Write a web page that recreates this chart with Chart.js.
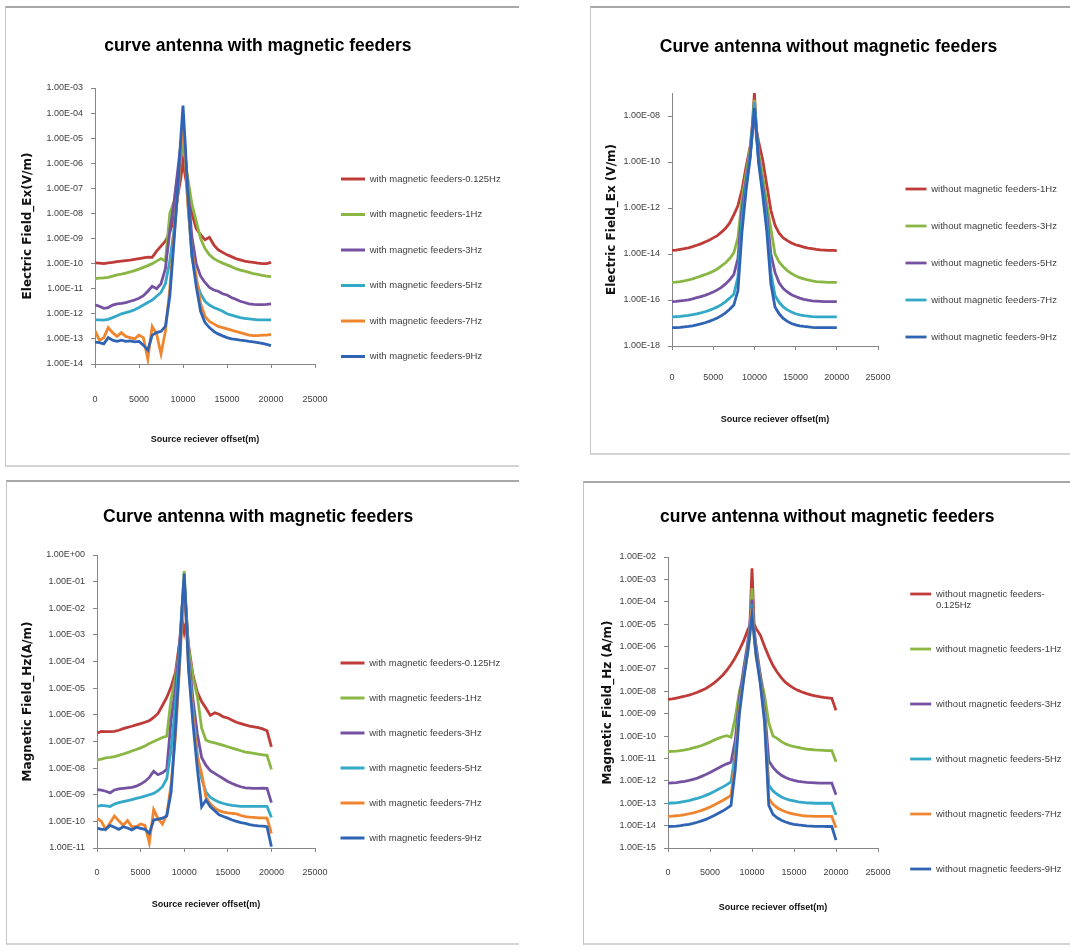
<!DOCTYPE html>
<html>
<head>
<meta charset="utf-8">
<script src="https://cdn.jsdelivr.net/npm/chart.js@4.4.0/dist/chart.umd.min.js"></script>
<style>
  body { margin: 0; background: #fff; width: 1070px; height: 951px; position: relative; overflow: hidden; }
  .frame { position: absolute; box-sizing: border-box; border-top: 2px solid #a8a8a8; border-left: 1px solid #c4c4c4; border-bottom: 2px solid #d4d4d4; }
  .frame canvas { position: absolute; left: -1px; top: -2px; }
</style>
</head>
<body>
<div class="frame" style="left:5px;top:6px;width:514px;height:461px"><canvas id="ExWithChart" width="514" height="461"></canvas></div>
<div class="frame" style="left:590px;top:6px;width:480px;height:449px"><canvas id="ExWithoutChart" width="480" height="449"></canvas></div>
<div class="frame" style="left:6px;top:480px;width:513px;height:465px"><canvas id="HzWithChart" width="513" height="465"></canvas></div>
<div class="frame" style="left:583px;top:481px;width:487px;height:464px"><canvas id="HzWithoutChart" width="487" height="464"></canvas></div>
<script>
// source-receiver offsets (m)
const offsets = [0,500,1000,1500,2000,2500,3000,3500,4000,4500,5000,5500,6000,6500,7000,7500,8000,8500,9000,9500,9750,10000,10250,10500,11000,11500,12000,12500,13000,13500,14000,14500,15000,15500,16000,16500,17000,17500,18000,18500,19000,19500,20000];

// values are log10 of the field

// Ex, with magnetic feeders
const exWith0125 = [-9.97,-9.98,-10.0,-9.97,-9.95,-9.92,-9.9,-9.88,-9.86,-9.83,-9.8,-9.77,-9.74,-9.75,-9.5,-9.3,-9.1,-8.75,-8.2,-7.1,-6.6,-5.9,-6.5,-7.0,-8.0,-8.6,-8.85,-9.05,-8.95,-9.25,-9.45,-9.55,-9.65,-9.72,-9.8,-9.85,-9.9,-9.93,-9.95,-9.98,-10.0,-10.0,-9.95];
const exWith1 = [-10.6,-10.58,-10.57,-10.55,-10.5,-10.45,-10.42,-10.38,-10.33,-10.28,-10.22,-10.15,-10.08,-10.0,-9.9,-9.8,-9.9,-8.0,-7.5,-6.2,-5.7,-5.3,-5.8,-6.5,-7.6,-8.3,-9.0,-9.4,-9.65,-9.8,-9.9,-9.98,-10.05,-10.12,-10.2,-10.26,-10.3,-10.35,-10.4,-10.43,-10.47,-10.5,-10.52];
const exWith3 = [-11.64,-11.7,-11.78,-11.75,-11.65,-11.6,-11.58,-11.55,-11.5,-11.45,-11.38,-11.28,-11.1,-10.9,-11.0,-10.8,-10.2,-8.7,-7.5,-6.0,-5.2,-4.6,-5.6,-6.8,-8.9,-10.0,-10.5,-10.75,-10.95,-11.05,-11.1,-11.2,-11.25,-11.35,-11.42,-11.5,-11.55,-11.6,-11.62,-11.63,-11.63,-11.62,-11.6];
const exWith5 = [-12.24,-12.24,-12.25,-12.22,-12.15,-12.08,-12.0,-11.95,-11.9,-11.84,-11.75,-11.65,-11.55,-11.45,-11.3,-11.15,-10.8,-9.9,-8.6,-6.9,-5.5,-4.4,-5.5,-7.3,-9.7,-10.7,-11.2,-11.5,-11.65,-11.75,-11.82,-11.9,-12.0,-12.05,-12.1,-12.15,-12.18,-12.2,-12.22,-12.24,-12.24,-12.24,-12.24];
const exWith7 = [-12.67,-13.05,-12.95,-12.55,-12.75,-12.9,-12.75,-12.9,-12.95,-13.0,-12.85,-12.95,-13.8,-12.5,-12.8,-13.6,-12.7,-11.0,-8.8,-6.8,-5.5,-4.5,-5.6,-7.4,-9.5,-10.5,-11.6,-12.1,-12.3,-12.4,-12.5,-12.55,-12.6,-12.65,-12.7,-12.75,-12.8,-12.85,-12.87,-12.87,-12.85,-12.85,-12.82];
const exWith9 = [-13.13,-13.15,-13.2,-12.95,-13.05,-13.1,-13.05,-13.1,-13.08,-13.12,-13.1,-13.25,-13.45,-12.85,-12.75,-12.7,-12.5,-11.3,-9.0,-6.5,-5.0,-3.7,-5.2,-7.0,-9.6,-10.9,-11.9,-12.35,-12.55,-12.7,-12.8,-12.88,-12.95,-13.0,-13.02,-13.05,-13.07,-13.1,-13.12,-13.15,-13.18,-13.22,-13.27];

// Ex, without magnetic feeders
const exWithout1 = [-13.84,-13.83,-13.8,-13.77,-13.73,-13.68,-13.62,-13.56,-13.48,-13.4,-13.3,-13.2,-13.05,-12.88,-12.65,-12.3,-11.9,-11.2,-10.2,-9.3,-8.4,-7.0,-8.6,-9.1,-9.9,-11.0,-12.1,-12.75,-13.1,-13.3,-13.42,-13.52,-13.6,-13.65,-13.7,-13.74,-13.77,-13.8,-13.82,-13.83,-13.84,-13.84,-13.85];
const exWithout3 = [-15.23,-15.22,-15.2,-15.17,-15.13,-15.08,-15.02,-14.96,-14.9,-14.83,-14.75,-14.65,-14.52,-14.38,-14.2,-13.95,-13.3,-11.6,-10.5,-9.4,-8.6,-7.3,-8.7,-9.6,-10.6,-11.8,-12.9,-14.0,-14.35,-14.55,-14.72,-14.85,-14.95,-15.03,-15.08,-15.13,-15.17,-15.2,-15.21,-15.22,-15.23,-15.23,-15.23];
const exWithout5 = [-16.07,-16.06,-16.04,-16.02,-15.99,-15.95,-15.9,-15.85,-15.8,-15.73,-15.65,-15.56,-15.45,-15.3,-15.12,-14.9,-14.2,-12.0,-10.8,-9.6,-8.8,-7.6,-8.9,-9.8,-11.0,-12.2,-14.0,-14.8,-15.25,-15.5,-15.65,-15.77,-15.85,-15.92,-15.97,-16.01,-16.04,-16.05,-16.06,-16.07,-16.07,-16.07,-16.07];
const exWithout7 = [-16.73,-16.72,-16.71,-16.69,-16.67,-16.64,-16.6,-16.56,-16.51,-16.45,-16.38,-16.3,-16.2,-16.07,-15.92,-15.75,-15.0,-12.5,-11.0,-9.7,-8.5,-7.4,-8.6,-9.9,-11.2,-12.6,-14.8,-15.8,-16.1,-16.3,-16.43,-16.52,-16.6,-16.65,-16.68,-16.7,-16.72,-16.73,-16.73,-16.73,-16.73,-16.73,-16.73];
const exWithout9 = [-17.2,-17.2,-17.19,-17.17,-17.15,-17.12,-17.08,-17.04,-16.99,-16.93,-16.86,-16.78,-16.68,-16.56,-16.4,-16.22,-15.6,-13.0,-11.2,-9.8,-8.6,-7.65,-8.7,-10.0,-11.4,-13.0,-15.3,-16.3,-16.6,-16.8,-16.93,-17.02,-17.08,-17.12,-17.15,-17.17,-17.19,-17.2,-17.2,-17.2,-17.2,-17.2,-17.2];

// Hz, with magnetic feeders
const hzWith0125 = [-6.69,-6.62,-6.63,-6.63,-6.62,-6.58,-6.52,-6.47,-6.43,-6.38,-6.33,-6.28,-6.22,-6.1,-5.95,-5.65,-5.35,-4.95,-4.4,-3.2,-2.4,-2.9,-2.5,-3.4,-4.5,-5.15,-5.5,-5.75,-6.02,-5.92,-5.98,-6.08,-6.12,-6.2,-6.28,-6.33,-6.38,-6.42,-6.45,-6.48,-6.53,-6.6,-7.2];
const hzWith1 = [-7.69,-7.66,-7.62,-7.6,-7.57,-7.52,-7.47,-7.42,-7.36,-7.3,-7.24,-7.17,-7.08,-7.0,-6.93,-6.85,-6.8,-5.4,-4.6,-3.4,-2.0,-0.6,-2.2,-3.5,-4.6,-5.3,-6.5,-6.95,-7.02,-7.05,-7.1,-7.15,-7.2,-7.25,-7.3,-7.35,-7.4,-7.42,-7.45,-7.48,-7.5,-7.52,-8.05];
const hzWith3 = [-8.81,-8.83,-8.87,-8.93,-8.82,-8.78,-8.76,-8.74,-8.72,-8.68,-8.6,-8.5,-8.35,-8.12,-8.25,-8.18,-8.05,-6.2,-5.0,-3.2,-2.0,-1.0,-2.2,-3.8,-5.4,-6.7,-7.6,-7.9,-8.1,-8.2,-8.3,-8.4,-8.5,-8.58,-8.65,-8.7,-8.74,-8.75,-8.76,-8.76,-8.75,-8.76,-9.3];
const hzWith5 = [-9.44,-9.4,-9.42,-9.44,-9.35,-9.3,-9.26,-9.22,-9.18,-9.14,-9.1,-9.05,-9.0,-8.95,-8.85,-8.7,-8.4,-7.3,-5.6,-3.5,-2.2,-1.0,-2.3,-4.0,-5.8,-7.5,-8.4,-8.9,-9.1,-9.2,-9.28,-9.33,-9.37,-9.4,-9.42,-9.44,-9.44,-9.44,-9.44,-9.44,-9.44,-9.44,-9.85];
const hzWith7 = [-9.88,-10.0,-10.3,-10.05,-9.8,-9.98,-10.15,-9.97,-10.2,-10.2,-10.1,-10.15,-10.8,-9.56,-9.9,-10.1,-9.75,-8.6,-6.8,-4.0,-2.5,-1.2,-2.6,-4.2,-6.0,-7.6,-8.2,-9.1,-9.35,-9.5,-9.6,-9.65,-9.68,-9.7,-9.72,-9.78,-9.82,-9.84,-9.85,-9.87,-9.87,-9.88,-10.45];
const hzWith9 = [-10.25,-10.3,-10.3,-10.15,-10.22,-10.3,-10.2,-10.25,-10.32,-10.22,-10.26,-10.3,-10.45,-9.95,-9.92,-9.88,-9.8,-8.9,-6.5,-3.8,-2.0,-0.7,-2.5,-4.3,-6.3,-8.0,-9.45,-9.2,-9.45,-9.6,-9.75,-9.82,-9.88,-9.95,-10.0,-10.05,-10.08,-10.12,-10.15,-10.17,-10.18,-10.2,-10.95];

// Hz, without magnetic feeders
const hzWithout0125 = [-8.36,-8.34,-8.3,-8.26,-8.22,-8.17,-8.11,-8.04,-7.96,-7.87,-7.76,-7.62,-7.46,-7.28,-7.06,-6.8,-6.5,-6.15,-5.75,-5.25,-5.05,-2.5,-5.0,-5.2,-5.5,-6.0,-6.45,-6.85,-7.15,-7.4,-7.6,-7.75,-7.87,-7.96,-8.04,-8.1,-8.16,-8.2,-8.24,-8.27,-8.29,-8.31,-8.85];
const hzWithout1 = [-10.69,-10.68,-10.67,-10.65,-10.62,-10.58,-10.53,-10.48,-10.42,-10.35,-10.27,-10.18,-10.1,-10.03,-9.98,-10.05,-9.2,-8.0,-7.3,-6.3,-5.5,-3.4,-5.6,-6.5,-7.3,-8.2,-9.4,-10.0,-10.1,-10.25,-10.35,-10.42,-10.47,-10.51,-10.55,-10.58,-10.6,-10.62,-10.63,-10.64,-10.65,-10.65,-11.15];
const hzWithout3 = [-12.1,-12.09,-12.08,-12.05,-12.02,-11.98,-11.93,-11.88,-11.8,-11.72,-11.63,-11.53,-11.43,-11.33,-11.24,-11.17,-10.2,-8.3,-7.0,-5.8,-5.0,-3.9,-5.2,-6.0,-7.3,-8.8,-11.1,-11.4,-11.6,-11.75,-11.85,-11.93,-11.98,-12.02,-12.05,-12.07,-12.08,-12.09,-12.1,-12.1,-12.1,-12.1,-12.62];
const hzWithout5 = [-13.0,-12.99,-12.98,-12.95,-12.92,-12.88,-12.83,-12.78,-12.72,-12.65,-12.57,-12.48,-12.38,-12.28,-12.17,-12.05,-10.8,-8.6,-7.3,-6.0,-5.2,-4.1,-5.3,-6.2,-7.5,-9.0,-12.2,-12.45,-12.6,-12.72,-12.8,-12.86,-12.9,-12.94,-12.96,-12.98,-12.99,-13.0,-13.0,-13.0,-13.0,-13.0,-13.52];
const hzWithout7 = [-13.59,-13.58,-13.56,-13.54,-13.51,-13.47,-13.43,-13.38,-13.32,-13.25,-13.17,-13.08,-12.98,-12.88,-12.77,-12.65,-11.2,-8.8,-7.4,-6.1,-5.3,-4.3,-5.4,-6.3,-7.6,-9.2,-12.8,-13.05,-13.2,-13.3,-13.38,-13.44,-13.49,-13.52,-13.55,-13.57,-13.58,-13.59,-13.59,-13.59,-13.59,-13.59,-14.1];
const hzWithout9 = [-14.04,-14.03,-14.02,-14.0,-13.97,-13.94,-13.9,-13.85,-13.79,-13.72,-13.64,-13.55,-13.45,-13.35,-13.23,-13.1,-11.5,-9.0,-7.5,-6.2,-5.4,-4.6,-5.5,-6.4,-7.7,-9.4,-13.1,-13.5,-13.65,-13.76,-13.84,-13.9,-13.94,-13.97,-13.99,-14.01,-14.02,-14.03,-14.03,-14.03,-14.04,-14.04,-14.65];

const withLabels = ['with magnetic feeders-0.125Hz','with magnetic feeders-1Hz','with magnetic feeders-3Hz','with magnetic feeders-5Hz','with magnetic feeders-7Hz','with magnetic feeders-9Hz'];
const withoutExLabels = ['without magnetic feeders-1Hz','without magnetic feeders-3Hz','without magnetic feeders-5Hz','without magnetic feeders-7Hz','without magnetic feeders-9Hz'];
const withoutHzLabels = [['without magnetic feeders-','0.125Hz'],['without magnetic feeders-1Hz',''],['without magnetic feeders-3Hz',''],['without magnetic feeders-5Hz',''],['without magnetic feeders-7Hz',''],['without magnetic feeders-9Hz','']];

const red = '#be3b37', green = '#8ab744', purple = '#7552a1', cyan = '#33a8c7', orange = '#f0852f', blue = '#2f64b5';
const sixColors = [red, green, purple, cyan, orange, blue];
const fiveColors = [red, green, purple, cyan, blue];

const sans = "'Liberation Sans', Arial, sans-serif";
const legendSize = 9.5;
const titleSize = 17.5;

function sci(v) {
	return '1.00E' + (v < 0 ? '-' : '+') + String(Math.abs(v)).padStart(2, '0');
}

// width of the longest legend label, so the legend box can be sized
function longestLabel(labels) {
	const ctx = document.createElement('canvas').getContext('2d');
	ctx.font = legendSize + 'px ' + sans;
	let w = 0;
	labels.forEach(l => [].concat(l).forEach(t => { w = Math.max(w, ctx.measureText(t).width); }));
	return w;
}

function makeChart(id, o) {
	const canvas = document.getElementById(id);
	const lines = Array.isArray(o.labels[0]) ? o.labels[0].length : 1;
	const itemH = lines > 1 ? lines * legendSize * 1.2 : legendSize;
	const gap = o.legendStep - itemH;
	const legendTitleH = o.legendY - gap - legendSize / 2;
	const legendW = gap + o.keyWidth + legendSize / 2 + longestLabel(o.labels) + 10;
	const padR = canvas.width - o.plotRight - legendW;
	const titleLine = titleSize * 1.2;

	new Chart(canvas, {
		type: 'line',
		data: {
			datasets: o.series.map((s, i) => ({
				label: o.labels[i],
				data: offsets.map((x, j) => ({x: x, y: s[j]})),
				borderColor: o.colors[i],
				backgroundColor: o.colors[i],
				borderWidth: 2.8,
				pointRadius: 0,
				tension: 0,
				fill: false,
				order: o.series.length - i
			}))
		},
		options: {
			responsive: false,
			animation: false,
			events: [],
			layout: { padding: { left: 0, right: padR, top: 0, bottom: 0 } },
			plugins: {
				title: {
					display: true, text: o.title, color: '#000',
					font: { family: sans, size: titleSize, weight: 'bold' },
					padding: { top: o.titleY - titleLine / 2, bottom: o.plotTop - o.titleY - titleLine / 2 }
				},
				legend: {
					position: 'right', align: 'start', maxWidth: 400,
					title: { display: true, text: '', font: { size: 10 }, padding: { top: legendTitleH - 12, bottom: 0 } },
					labels: {
						usePointStyle: true, pointStyle: 'line', pointStyleWidth: o.keyWidth,
						padding: gap, color: '#404040',
						font: { family: sans, size: legendSize },
						sort: (a, b) => a.datasetIndex - b.datasetIndex
					}
				},
				tooltip: { enabled: false }
			},
			scales: {
				x: {
					type: 'linear', min: 0, max: 25000,
					afterFit: a => { a.height = canvas.height - o.plotBottom; },
					ticks: { stepSize: 5000, padding: o.xTickPad, maxRotation: 0, color: '#404040', font: { family: sans, size: 9 }, callback: v => String(v) },
					grid: { drawOnChartArea: false, tickLength: 4, color: '#868686' },
					border: { color: '#868686' },
					title: { display: true, text: 'Source reciever offset(m)', color: '#111', font: { family: sans, size: 9, weight: 'bold' }, padding: { top: 0, bottom: canvas.height - o.xTitleY - 5.4 } }
				},
				y: {
					type: 'linear', min: o.yMin, max: o.yMax,
					afterFit: a => { a.width = o.plotLeft; },
					afterBuildTicks: a => { a.ticks = a.ticks.filter(t => (t.value - o.yMin) % o.yStep === 0); },
					ticks: { stepSize: 1, autoSkip: false, padding: 8, color: '#404040', font: { family: sans, size: 9 }, callback: v => sci(v) },
					grid: { drawOnChartArea: false, tickLength: 4, color: '#868686' },
					border: { color: '#868686' },
					title: { display: true, text: o.yTitle, color: '#111', font: { family: "'DejaVu Sans', sans-serif", size: 12, weight: 'bold' }, padding: { top: o.yTitleX - 7.2, bottom: 0 } }
				}
			}
		}
	});
}

makeChart('ExWithChart', {
	title: 'curve antenna with magnetic feeders', yTitle: 'Electric Field_Ex(V/m)',
	series: [exWith0125, exWith1, exWith3, exWith5, exWith7, exWith9], labels: withLabels, colors: sixColors,
	yMin: -14, yMax: -3, yStep: 1,
	plotLeft: 90, plotRight: 310, plotTop: 82, plotBottom: 358,
	titleY: 40, yTitleX: 23, xTickPad: 26, xTitleY: 434,
	legendY: 173, legendStep: 35.5, keyWidth: 24
});

makeChart('ExWithoutChart', {
	title: 'Curve antenna without magnetic feeders', yTitle: 'Electric Field_Ex (V/m)',
	series: [exWithout1, exWithout3, exWithout5, exWithout7, exWithout9], labels: withoutExLabels, colors: fiveColors,
	yMin: -18, yMax: -7, yStep: 2,
	plotLeft: 82, plotRight: 288, plotTop: 87, plotBottom: 340,
	titleY: 41, yTitleX: 22, xTickPad: 22, xTitleY: 414,
	legendY: 183, legendStep: 37, keyWidth: 21
});

makeChart('HzWithChart', {
	title: 'Curve antenna with magnetic feeders', yTitle: 'Magnetic Field_Hz(A/m)',
	series: [hzWith0125, hzWith1, hzWith3, hzWith5, hzWith7, hzWith9], labels: withLabels, colors: sixColors,
	yMin: -11, yMax: 0, yStep: 1,
	plotLeft: 91, plotRight: 309, plotTop: 75, plotBottom: 368,
	titleY: 37, yTitleX: 22, xTickPad: 15, xTitleY: 425,
	legendY: 183, legendStep: 35, keyWidth: 24
});

makeChart('HzWithoutChart', {
	title: 'curve antenna without magnetic feeders', yTitle: 'Magnetic Field_Hz (A/m)',
	series: [hzWithout0125, hzWithout1, hzWithout3, hzWithout5, hzWithout7, hzWithout9], labels: withoutHzLabels, colors: sixColors,
	yMin: -15, yMax: -2, yStep: 1,
	plotLeft: 85, plotRight: 295, plotTop: 76, plotBottom: 367,
	titleY: 36, yTitleX: 25, xTickPad: 15, xTitleY: 427,
	legendY: 113, legendStep: 55, keyWidth: 21
});
</script>
</body>
</html>
